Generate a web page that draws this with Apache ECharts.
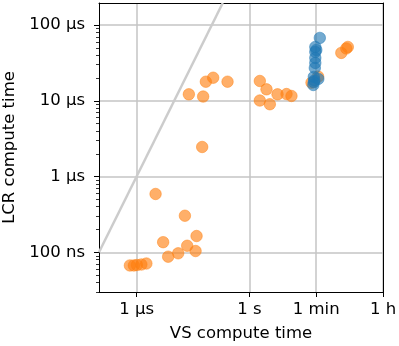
<!DOCTYPE html>
<html>
<head>
<meta charset="utf-8">
<script src="https://cdn.jsdelivr.net/npm/echarts@6/dist/echarts.min.js"></script>
<style>
  html, body { margin: 0; padding: 0; background: #fff; }
  #chart { width: 399px; height: 346px; }
</style>
</head>
<body>
<div id="chart"></div>
<script>
// tick positions and labels (axis units, plotted on log10 scale)
const xTickVals = [1e-6, 1e-3, 0.06, 3.6];
const xTickLabels = ['1 µs', '1 s', '1 min', '1 h'];
const yTickVals = [1e-7, 1e-6, 1e-5, 1e-4];
const yTickLabels = ['100 ns', '1 µs', '10 µs', '100 µs'];

const xMin = 1e-7, xMax = 3.6;
const yMin = 2.99e-8, yMax = 1.96e-4;

// orange series
const vsOrange = [6.64e-7, 8.47e-7, 1.02e-6, 1.34e-6, 1.82e-6, 3.20e-6, 5.09e-6, 6.92e-6,
  1.28e-5, 1.93e-5, 2.22e-5, 3.71e-5, 3.94e-5, 5.56e-5, 2.46e-5, 5.90e-5, 6.97e-5,
  1.09e-4, 2.63e-4, 1.90e-3, 2.86e-3, 1.90e-3, 3.51e-3, 5.62e-3, 9.75e-3, 1.32e-2,
  4.51e-2, 6.76e-2, 0.280, 0.380, 0.417];
const lcrOrange = [6.70e-8, 6.70e-8, 6.79e-8, 6.90e-8, 7.11e-8, 5.89e-7, 1.36e-7, 8.75e-8,
  9.70e-8, 3.04e-7, 1.22e-7, 1.04e-7, 1.64e-7, 2.46e-6, 1.22e-5, 1.14e-5, 1.79e-5,
  2.02e-5, 1.79e-5, 1.83e-5, 1.42e-5, 1.01e-5, 9.02e-6, 1.22e-5, 1.23e-5, 1.16e-5,
  1.74e-5, 2.09e-5, 4.30e-5, 4.92e-5, 5.15e-5];

// blue series
const vsBlue = [7.50e-2, 5.69e-2, 6.05e-2, 5.69e-2, 5.69e-2, 5.69e-2, 5.52e-2, 5.19e-2,
  6.84e-2, 5.19e-2, 5.04e-2, 5.36e-2];
const lcrBlue = [6.78e-5, 5.15e-5, 4.70e-5, 4.43e-5, 3.69e-5, 3.17e-5, 2.72e-5, 2.07e-5,
  1.95e-5, 1.77e-5, 1.62e-5, 1.86e-5];

const lg = Math.log10;
const toPts = (xs, ys) => xs.map((x, i) => [lg(x), lg(ys[i])]);

// minor ticks 2..9 per decade on y
const yMinor = [];
for (let e = -9; e <= -3; e++) {
  for (let k = 2; k <= 9; k++) {
    const v = k * Math.pow(10, e);
    if (v > yMin && v < yMax) yMinor.push(lg(v));
  }
}

const font = 'DejaVu Sans';
const fs = 16.5;
const spine = { show: true, onZero: false, lineStyle: { color: '#000', width: 1 } };
const noTicks = { axisTick: { show: false }, axisLabel: { show: false }, splitLine: { show: false } };

let myChart = echarts.init(document.getElementById('chart'), null, { renderer: 'canvas' });
let option = {
  animation: false,
  grid: {
    left: 99, right: 16, top: 3, bottom: 54,
    containLabel: false,
    outerBoundsMode: 'none'
  },
  xAxis: [{
    type: 'value',
    position: 'bottom',
    min: lg(xMin), max: lg(xMax),
    name: 'VS compute time',
    nameLocation: 'middle',
    nameGap: 33,
    nameTextStyle: { fontFamily: font, fontSize: fs, color: '#000' },
    axisLine: spine,
    axisTick: { show: true, length: 5, lineStyle: { color: '#000', width: 1 }, customValues: xTickVals.map(lg) },
    axisLabel: {
      margin: 9, fontFamily: font, fontSize: fs, color: '#000',
      customValues: xTickVals.map(lg),
      formatter: v => {
        const i = xTickVals.findIndex(t => Math.abs(lg(t) - v) < 1e-6);
        return i >= 0 ? xTickLabels[i] : '';
      }
    },
    splitLine: { show: true, lineStyle: { color: '#c4c4c4', width: 1.5 } }
  }, {
    // top spine
    type: 'value',
    position: 'top',
    min: lg(xMin), max: lg(xMax),
    axisLine: spine,
    ...noTicks
  }],
  yAxis: [{
    type: 'value',
    position: 'left',
    min: lg(yMin), max: lg(yMax),
    name: 'LCR compute time',
    nameLocation: 'middle',
    nameGap: 73,
    nameTextStyle: { fontFamily: font, fontSize: fs, color: '#000' },
    axisLine: spine,
    axisTick: { show: true, length: 5, lineStyle: { color: '#000', width: 1 }, customValues: yTickVals.map(lg) },
    axisLabel: {
      margin: 14, fontFamily: font, fontSize: fs, color: '#000',
      customValues: yTickVals.map(lg),
      formatter: v => {
        const i = yTickVals.findIndex(t => Math.abs(lg(t) - v) < 1e-6);
        return i >= 0 ? yTickLabels[i] : '';
      }
    },
    splitLine: { show: true, lineStyle: { color: '#c4c4c4', width: 1.5 } }
  }, {
    // right spine
    type: 'value',
    position: 'right',
    min: lg(yMin), max: lg(yMax),
    axisLine: spine,
    ...noTicks
  }, {
    // minor ticks on the left
    type: 'value',
    position: 'left',
    offset: 0,
    min: lg(yMin), max: lg(yMax),
    axisLine: { show: false, onZero: false },
    axisTick: { show: true, length: 3, lineStyle: { color: '#000', width: 0.8 }, customValues: yMinor },
    axisLabel: { show: false },
    splitLine: { show: false }
  }],
  series: [
    {
      // y = x reference line
      type: 'line',
      data: [[lg(xMin), lg(xMin)], [lg(yMax), lg(yMax)]],
      symbol: 'none',
      lineStyle: { color: '#cccccc', width: 2.5 },
      clip: true,
      z: 1
    },
    {
      type: 'scatter',
      data: toPts(vsOrange, lcrOrange),
      symbolSize: 11.5,
      itemStyle: { color: 'rgba(255,127,14,0.78)', borderColor: 'rgba(255,127,14,0.6)', borderWidth: 1 },
      z: 2
    },
    {
      type: 'scatter',
      data: toPts(vsBlue, lcrBlue),
      symbolSize: 11.5,
      itemStyle: { color: 'rgba(31,119,180,0.78)', borderColor: 'rgba(31,119,180,0.6)', borderWidth: 1 },
      z: 3
    }
  ]
};
myChart.setOption(option);
</script>
</body>
</html>
